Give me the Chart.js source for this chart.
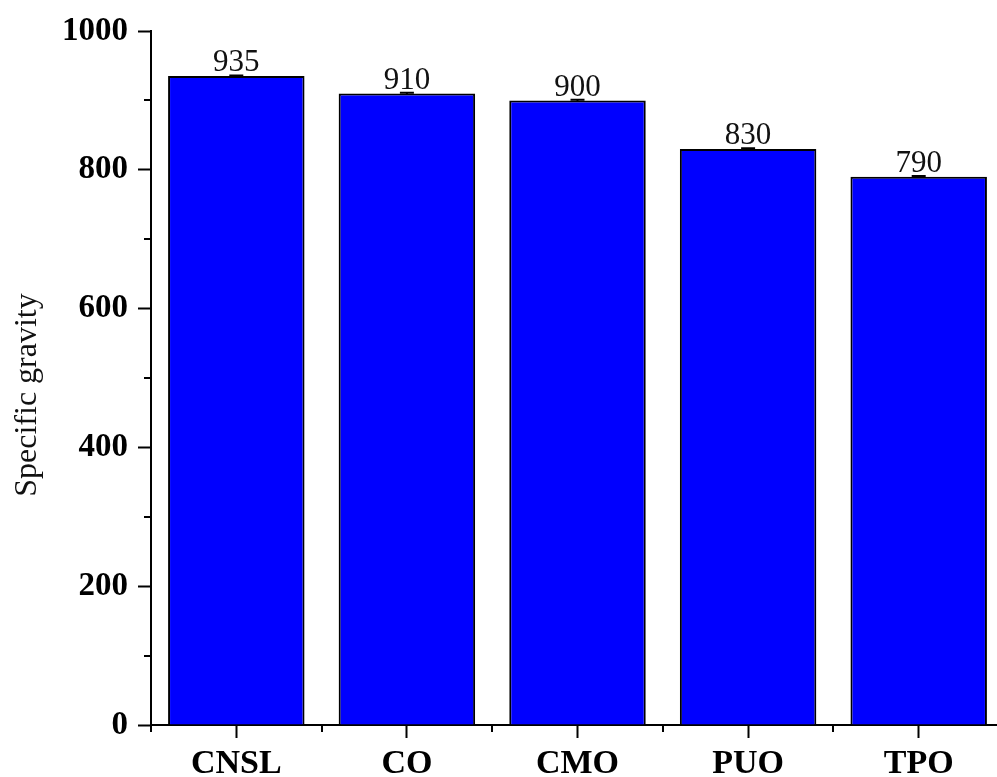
<!DOCTYPE html>
<html>
<head>
<meta charset="utf-8">
<script src="https://cdn.jsdelivr.net/npm/chart.js@4.4.1/dist/chart.umd.min.js"></script>
<style>
  html, body { margin: 0; padding: 0; background: #fff; overflow: hidden; }
  #wrap { width: 1004px; height: 777px; }
</style>
</head>
<body>
<div id="wrap"><canvas id="myChart" width="1004" height="777"></canvas></div>
<script>
const categories = ["CNSL", "CO", "CMO", "PUO", "TPO"];
const gravity = [935, 910, 900, 830, 790];
const gravityErr = [1, 1, 1, 1, 1];
const yTicks = [0, 200, 400, 600, 800, 1000];

const serif = "'Liberation Serif', 'Times New Roman', serif";

// value labels, error caps, minor ticks and the y title
const extras = {
  id: "extras",
  afterDatasetsDraw(chart) {
    const ctx = chart.ctx;
    const x = chart.scales.x, y = chart.scales.y;
    const meta = chart.getDatasetMeta(0);
    ctx.save();
    ctx.strokeStyle = "#000";
    ctx.fillStyle = "#111";
    meta.data.forEach((bar, i) => {
      const top = y.getPixelForValue(gravity[i] + gravityErr[i]);
      const bot = y.getPixelForValue(gravity[i] - gravityErr[i]);
      ctx.lineWidth = 2;
      ctx.beginPath();
      ctx.moveTo(bar.x, top); ctx.lineTo(bar.x, bot);
      ctx.moveTo(bar.x - 7, top); ctx.lineTo(bar.x + 7, top);
      ctx.stroke();
      ctx.font = "31px " + serif;
      ctx.textAlign = "center";
      ctx.textBaseline = "alphabetic";
      ctx.fillText(String(gravity[i]), bar.x, top - 4);
    });
    // minor ticks
    ctx.lineWidth = 2;
    ctx.beginPath();
    for (let v = 100; v < 1000; v += 200) {
      const py = Math.round(y.getPixelForValue(v));
      ctx.moveTo(x.left - 7, py); ctx.lineTo(x.left, py);
    }
    for (let i = 0; i <= categories.length; i++) {
      const px = Math.round(x.getPixelForValue(i - 0.5));
      ctx.moveTo(px, y.bottom); ctx.lineTo(px, y.bottom + 7);
    }
    ctx.stroke();
    // y title
    ctx.translate(28, 395);
    ctx.rotate(-Math.PI / 2);
    ctx.font = "32px " + serif;
    ctx.textAlign = "center";
    ctx.textBaseline = "middle";
    ctx.fillText("Specific gravity", 0, 0);
    ctx.restore();
  }
};

const ctx = document.getElementById("myChart").getContext("2d");
new Chart(ctx, {
  type: "bar",
  data: {
    labels: categories,
    datasets: [{
      data: gravity,
      backgroundColor: "#0000ff",
      borderColor: "#000",
      borderWidth: 2,
      barPercentage: 0.8,
      categoryPercentage: 1.0
    }]
  },
  options: {
    responsive: false,
    animation: false,
    layout: { padding: { top: 31, right: 0, bottom: 0, left: 0 } },
    plugins: { legend: { display: false }, tooltip: { enabled: false } },
    scales: {
      x: {
        offset: true,
        grid: { display: true, drawOnChartArea: false, offset: false, tickLength: 13, tickWidth: 2, tickColor: "#000" },
        border: { display: true, color: "#000", width: 2 },
        ticks: { color: "#000", font: { family: serif, size: 34, weight: "bold" }, padding: 6 },
        afterFit(scale) { scale.height = 52; }
      },
      y: {
        min: 0,
        max: 1000,
        afterBuildTicks(scale) { scale.ticks = yTicks.map(v => ({ value: v })); },
        grid: { display: true, drawOnChartArea: false, tickLength: 13, tickWidth: 2, tickColor: "#000" },
        border: { display: true, color: "#000", width: 2 },
        ticks: {
          color: "#000",
          font: { family: serif, size: 33, weight: "bold" },
          padding: 10,
          callback: v => String(v)
        },
        afterFit(scale) { scale.width = 151; }
      }
    }
  },
  plugins: [extras]
});
</script>
</body>
</html>
